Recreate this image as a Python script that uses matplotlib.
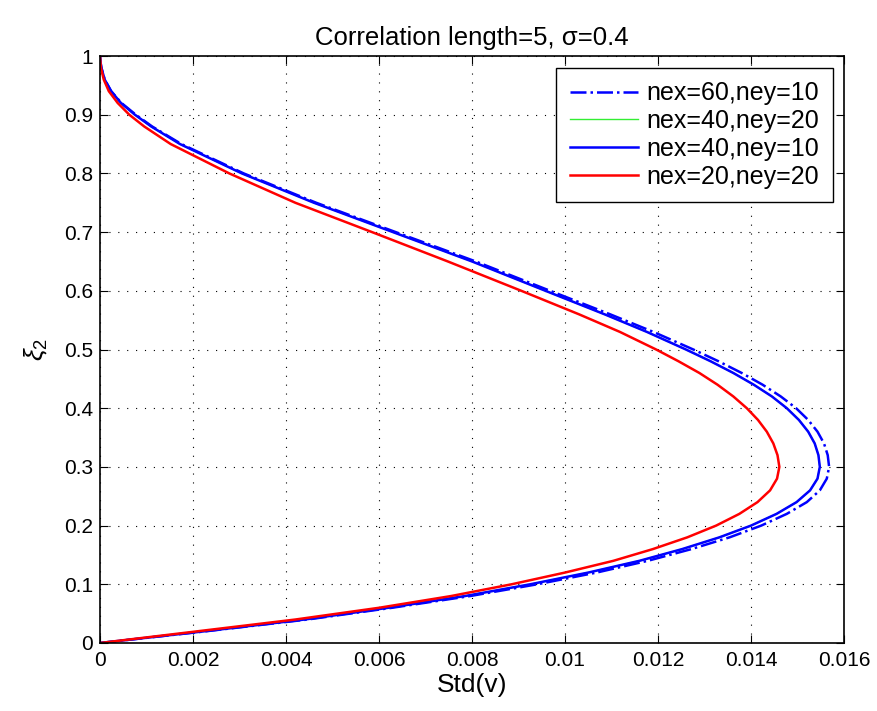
import numpy as np
import matplotlib
matplotlib.use("Agg")
import matplotlib.pyplot as plt

plt.rcParams['font.family'] = ['Liberation Sans', 'DejaVu Sans']
plt.rcParams['mathtext.fontset'] = 'custom'
plt.rcParams['mathtext.it'] = 'Liberation Sans:italic'
plt.rcParams['mathtext.rm'] = 'Liberation Sans'

xi2 = [0, 0.02, 0.04, 0.06, 0.08, 0.10, 0.12, 0.14, 0.16, 0.18, 0.20, 0.22, 0.24,
       0.26, 0.28, 0.30, 0.32, 0.34, 0.36, 0.38, 0.40, 0.42, 0.44, 0.46, 0.48,
       0.50, 0.53, 0.56, 0.60, 0.65, 0.70, 0.75, 0.80, 0.85, 0.88, 0.90, 0.92,
       0.94, 0.96, 0.98, 0.99, 1.0]

std_60_10 = [0, 0.00228, 0.00446, 0.00628, 0.00796, 0.00940, 0.01068, 0.01178, 0.01272,
             0.01354, 0.01422, 0.01477, 0.01520, 0.01548, 0.01563, 0.01568, 0.01565,
             0.01557, 0.01543, 0.01523, 0.01497, 0.01464, 0.01425, 0.01380, 0.01330,
             0.01276, 0.01190, 0.01097, 0.00968, 0.00808, 0.00636, 0.00465, 0.00309,
             0.00175, 0.00112, 0.00077, 0.00046, 0.00024, 0.00010, 0.00003, 0.00001, 0]
std_40_20 = [0, 0.00225, 0.00440, 0.00620, 0.00785, 0.00925, 0.01050, 0.01160, 0.01252,
             0.01332, 0.01400, 0.01455, 0.01498, 0.01527, 0.01543, 0.01548, 0.01545,
             0.01537, 0.01523, 0.01503, 0.01477, 0.01445, 0.01406, 0.01362, 0.01313,
             0.01260, 0.01176, 0.01085, 0.00958, 0.00800, 0.00630, 0.00460, 0.00305,
             0.00172, 0.00110, 0.00075, 0.00045, 0.00024, 0.00010, 0.00003, 0.00001, 0]
std_40_10 = [0, 0.00225, 0.00440, 0.00620, 0.00785, 0.00925, 0.01050, 0.01160, 0.01252,
             0.01332, 0.01400, 0.01455, 0.01498, 0.01527, 0.01543, 0.01548, 0.01545,
             0.01537, 0.01523, 0.01503, 0.01477, 0.01445, 0.01406, 0.01362, 0.01313,
             0.01260, 0.01176, 0.01085, 0.00958, 0.00800, 0.00630, 0.00460, 0.00305,
             0.00172, 0.00110, 0.00075, 0.00045, 0.00024, 0.00010, 0.00003, 0.00001, 0]
std_20_20 = [0, 0.00210, 0.00420, 0.00600, 0.00755, 0.00885, 0.01000, 0.01104, 0.01189,
             0.01263, 0.01325, 0.01375, 0.01414, 0.01441, 0.01456, 0.01461, 0.01457,
             0.01448, 0.01434, 0.01415, 0.01391, 0.01362, 0.01328, 0.01289, 0.01244,
             0.01196, 0.01118, 0.01030, 0.00906, 0.00748, 0.00585, 0.00420, 0.00278,
             0.00152, 0.00095, 0.00063, 0.00038, 0.00019, 0.00008, 0.00002, 0.00001, 0]

labels = ["nex=60,ney=10", "nex=40,ney=20", "nex=40,ney=10", "nex=20,ney=20"]
xticks = [0, 0.002, 0.004, 0.006, 0.008, 0.01, 0.012, 0.014, 0.016]
xticklabels = ["0", "0.002", "0.004", "0.006", "0.008", "0.01", "0.012", "0.014", "0.016"]
yticks = [0, 0.1, 0.2, 0.3, 0.4, 0.5, 0.6, 0.7, 0.8, 0.9, 1.0]
yticklabels = ["0", "0.1", "0.2", "0.3", "0.4", "0.5", "0.6", "0.7", "0.8", "0.9", "1"]

fig = plt.figure(figsize=(8.77, 7.11), dpi=100)
ax = fig.add_axes([100 / 877, 68 / 711, 744 / 877, 587 / 711])

ax.plot(std_60_10, xi2, color='#0000ff', linestyle='-.', linewidth=1.8, label=labels[0])
ax.plot(std_40_20, xi2, color='#33ee33', linestyle='-', linewidth=1.0, label=labels[1])
ax.plot(std_40_10, xi2, color='#0000ff', linestyle='-', linewidth=1.8, label=labels[2])
ax.plot(std_20_20, xi2, color='#ff0000', linestyle='-', linewidth=1.8, label=labels[3])

ax.set_xlim(0, 0.016)
ax.set_ylim(0, 1)
ax.set_xticks(xticks)
ax.set_xticklabels(xticklabels)
ax.set_yticks(yticks)
ax.set_yticklabels(yticklabels)
ax.tick_params(direction='in', top=True, right=True, labelsize=15, length=6, width=0.8)
ax.tick_params(axis='x', pad=6)
ax.tick_params(axis='y', pad=5)
ax.grid(True, linestyle=(0, (1, 7)), color='black', linewidth=0.8)
for s in ax.spines.values():
    s.set_linewidth(1.2)

ax.set_title("Correlation length=5, \u03c3=0.4", fontsize=18.5, pad=8)
ax.set_xlabel("Std(v)", fontsize=19, labelpad=2)
ax.set_ylabel(r"$\xi_2$", fontsize=19, labelpad=10)

leg = ax.legend(loc='upper right', bbox_to_anchor=(0.985, 0.98), fontsize=18,
                fancybox=False, edgecolor='black', framealpha=1, borderaxespad=0,
                handlelength=2.7, labelspacing=0.15, borderpad=0.55, handletextpad=0.35)
leg.get_frame().set_linewidth(1.0)

fig.savefig("out.png", dpi=100)
